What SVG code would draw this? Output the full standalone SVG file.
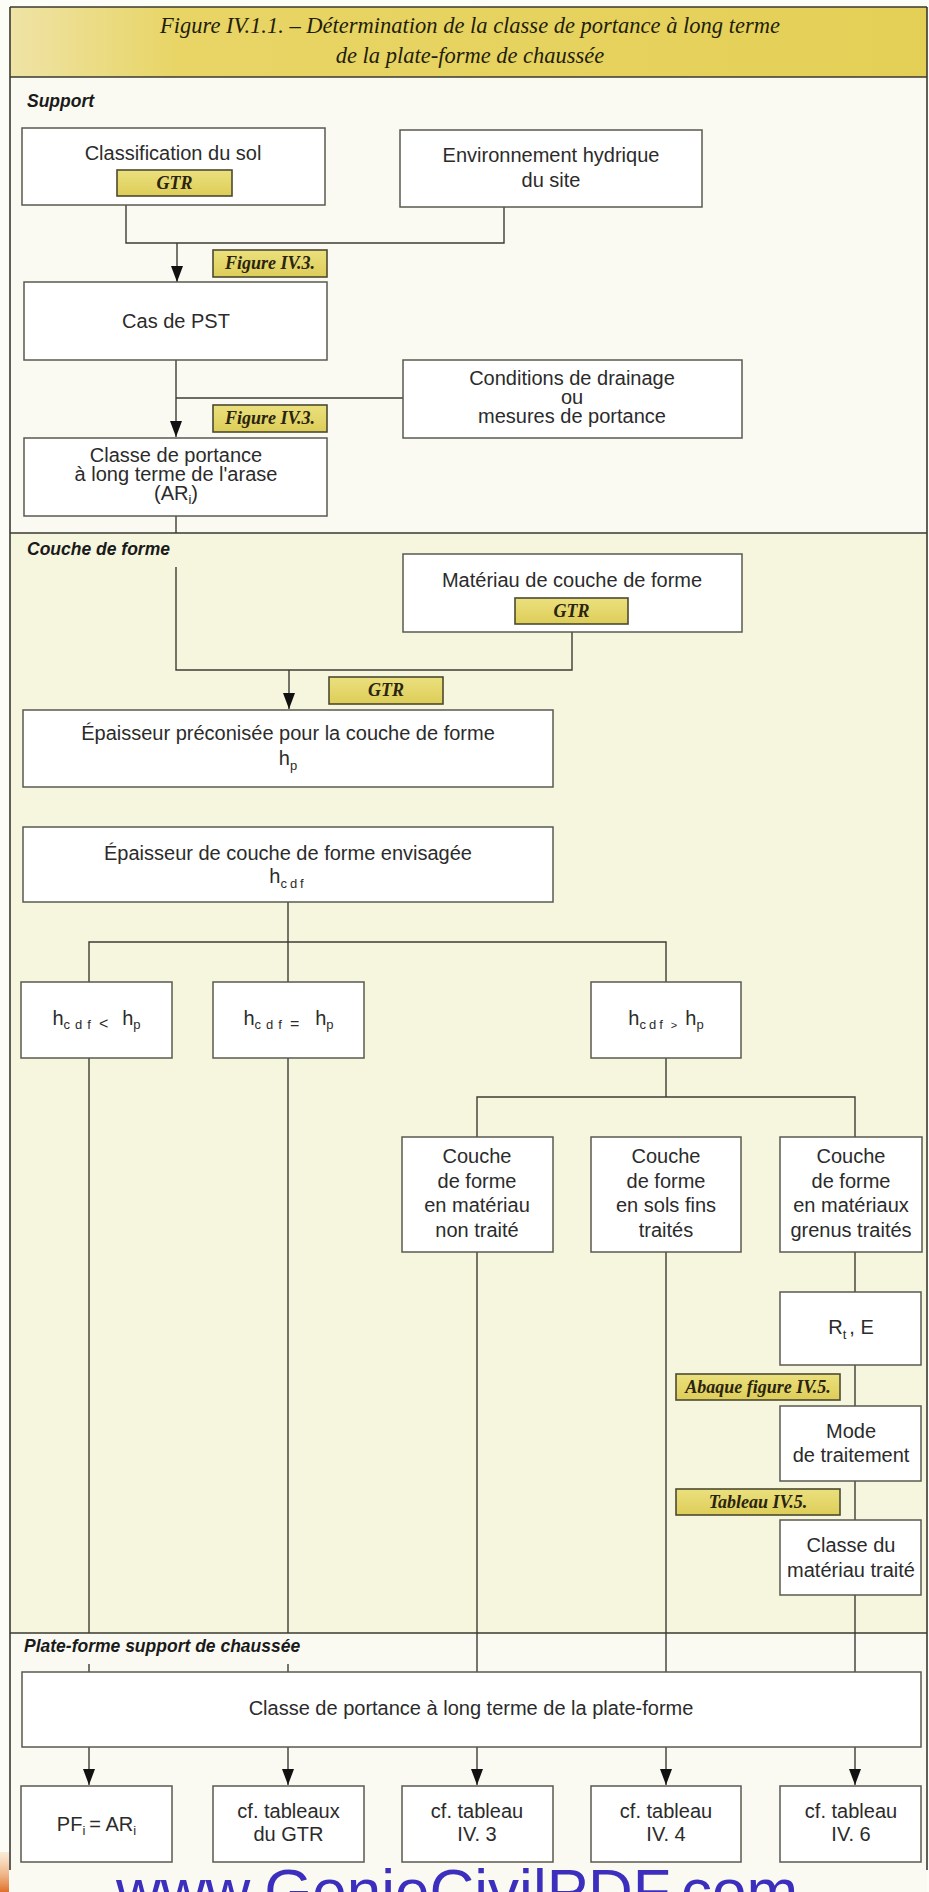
<svg xmlns="http://www.w3.org/2000/svg" width="929" height="1892" viewBox="0 0 929 1892">
<defs>
<linearGradient id="hdr" x1="0" y1="0" x2="1" y2="0">
<stop offset="0" stop-color="#efe3a6"/>
<stop offset="0.18" stop-color="#e8d566"/>
<stop offset="1" stop-color="#e4cf56"/>
</linearGradient>
<linearGradient id="lblg" x1="0" y1="0" x2="0" y2="1">
<stop offset="0" stop-color="#ebe07e"/>
<stop offset="1" stop-color="#ddcd58"/>
</linearGradient>
<linearGradient id="org" x1="0" y1="0" x2="0" y2="1">
<stop offset="0" stop-color="#f3c28a" stop-opacity="0.3"/>
<stop offset="1" stop-color="#e0702a"/>
</linearGradient>
<marker id="arr" markerWidth="16" markerHeight="12" refX="16" refY="6" orient="auto" markerUnits="userSpaceOnUse">
<path d="M0,0 L16,6 L0,12 z" fill="#111"/>
</marker>
<style>
.box{fill:#fff;stroke:#5a5a50;stroke-width:1.5}
.lbl{fill:url(#lblg);stroke:#4d4a30;stroke-width:1.6}
.ln{fill:none;stroke:#3c3c34;stroke-width:1.4}
.fr{fill:none;stroke:#3a3a30;stroke-width:1.6}
.t{font-family:"Liberation Sans",Arial,sans-serif;font-size:20px;fill:#2b2b2b;text-anchor:middle}
.sec{font-family:"Liberation Sans",Arial,sans-serif;font-size:17.5px;font-weight:bold;font-style:italic;fill:#1a1a1a}
.lt{font-family:"Liberation Serif","Times New Roman",serif;font-size:18px;font-weight:bold;font-style:italic;fill:#2a2410;text-anchor:middle}
.ttl{font-family:"Liberation Serif","Times New Roman",serif;font-size:22.5px;font-style:italic;fill:#231e0c;text-anchor:middle}
.s{font-size:13px}
.wm{font-family:"Liberation Sans",Arial,sans-serif;font-size:62px;fill:#3d2fbd}
</style>
</defs>

<!-- backgrounds -->
<rect x="0" y="0" width="929" height="1892" fill="#fdfdf8"/>
<rect x="10" y="7" width="917" height="70" fill="url(#hdr)"/>
<rect x="10" y="77" width="917" height="456" fill="#fafaf3"/>
<rect x="10" y="533" width="917" height="1100" fill="#f6f6df"/>
<rect x="10" y="1633" width="917" height="259" fill="#fafaf3"/>
<rect x="0" y="1852" width="9" height="40" fill="url(#org)"/>

<!-- frame and section separators -->
<g id="frame">
<path class="fr" d="M10 7 H927 M10 77 H927 M10 533 H927 M10 1633 H927 M10 7 V1870 M927 7 V1870"/>
</g>

<g id="title">
<text class="ttl" x="470" y="33">Figure IV.1.1. – Détermination de la classe de portance à long terme</text>
<text class="ttl" x="470" y="63">de la plate-forme de chaussée</text>
</g>

<g id="sections">
<text class="sec" x="27" y="107">Support</text>
<text class="sec" x="27" y="555">Couche de forme</text>
<text class="sec" x="24" y="1652">Plate-forme support de chaussée</text>
</g>

<!-- connectors -->
<g id="connectors">
<path class="ln" d="M126 205 V243 H504 V207"/>
<path class="ln" d="M177 243 V282" marker-end="url(#arr)"/>
<path class="ln" d="M176 360 V437" marker-end="url(#arr)"/>
<path class="ln" d="M403 398 H176"/>
<path class="ln" d="M176 516 V533"/>
<path class="ln" d="M176 567 V670 H572 V632"/>
<path class="ln" d="M289 670 V709" marker-end="url(#arr)"/>
<path class="ln" d="M288 902 V982 M89 982 V942 H666 V982"/>
<path class="ln" d="M89 1058 V1633 M89 1664 V1672"/>
<path class="ln" d="M288 1058 V1633 M288 1664 V1672"/>
<path class="ln" d="M666 1058 V1097 M477 1137 V1097 H855 V1137"/>
<path class="ln" d="M477 1252 V1672"/>
<path class="ln" d="M666 1252 V1672"/>
<path class="ln" d="M855 1252 V1292 M855 1365 V1406 M855 1481 V1520 M855 1595 V1672"/>
<path class="ln" d="M89 1747 V1785" marker-end="url(#arr)"/>
<path class="ln" d="M288 1747 V1785" marker-end="url(#arr)"/>
<path class="ln" d="M477 1747 V1785" marker-end="url(#arr)"/>
<path class="ln" d="M666 1747 V1785" marker-end="url(#arr)"/>
<path class="ln" d="M855 1747 V1785" marker-end="url(#arr)"/>
</g>

<!-- nodes -->
<g id="n-classification">
<rect class="box" x="22" y="128" width="303" height="77"/>
<text class="t" x="173" y="160">Classification du sol</text>
<rect class="lbl" x="117" y="170" width="115" height="26"/>
<text class="lt" x="174.5" y="189">GTR</text>
</g>

<g id="n-environnement">
<rect class="box" x="400" y="130" width="302" height="77"/>
<text class="t" x="551" y="162">Environnement hydrique</text>
<text class="t" x="551" y="187">du site</text>
</g>

<g id="l-fig1">
<rect class="lbl" x="213" y="250" width="114" height="27"/>
<text class="lt" x="270" y="269">Figure IV.3.</text>
</g>

<g id="n-pst">
<rect class="box" x="24" y="282" width="303" height="78"/>
<text class="t" x="176" y="328">Cas de PST</text>
</g>

<g id="n-conditions">
<rect class="box" x="403" y="360" width="339" height="78"/>
<text class="t" x="572" y="385">Conditions de drainage</text>
<text class="t" x="572" y="404">ou</text>
<text class="t" x="572" y="423">mesures de portance</text>
</g>

<g id="l-fig2">
<rect class="lbl" x="213" y="405" width="114" height="27"/>
<text class="lt" x="270" y="424">Figure IV.3.</text>
</g>

<g id="n-arase">
<rect class="box" x="24" y="438" width="303" height="78"/>
<text class="t" x="176" y="462">Classe de portance</text>
<text class="t" x="176" y="481">à long terme de l'arase</text>
<text class="t" x="176" y="500">(AR<tspan class="s" dy="4">i</tspan><tspan dy="-4">)</tspan></text>
</g>

<g id="n-materiau">
<rect class="box" x="403" y="554" width="339" height="78"/>
<text class="t" x="572" y="587">Matériau de couche de forme</text>
<rect class="lbl" x="515" y="598" width="113" height="26"/>
<text class="lt" x="571.5" y="617">GTR</text>
</g>

<g id="l-gtr">
<rect class="lbl" x="329" y="677" width="114" height="27"/>
<text class="lt" x="386" y="696">GTR</text>
</g>

<g id="n-hp">
<rect class="box" x="23" y="710" width="530" height="77"/>
<text class="t" x="288" y="740">Épaisseur préconisée pour la couche de forme</text>
<text class="t" x="288" y="765">h<tspan class="s" dy="5">p</tspan></text>
</g>

<g id="n-hcdf">
<rect class="box" x="23" y="827" width="530" height="75"/>
<text class="t" x="288" y="860">Épaisseur de couche de forme envisagée</text>
<text class="t" x="288" y="883">h<tspan class="s" dy="5" letter-spacing="3">cdf</tspan></text>
</g>

<g id="n-lt">
<rect class="box" x="21" y="982" width="151" height="76"/>
<text class="t" x="96.5" y="1025">h<tspan class="s" dy="4" letter-spacing="5">cdf</tspan><tspan dx="3" font-size="16">&lt;</tspan><tspan dx="14" dy="-4">h</tspan><tspan class="s" dy="4">p</tspan></text>
</g>

<g id="n-eq">
<rect class="box" x="213" y="982" width="151" height="76"/>
<text class="t" x="288.5" y="1025">h<tspan class="s" dy="4" letter-spacing="5">cdf</tspan><tspan dx="3" font-size="16">=</tspan><tspan dx="16" dy="-4">h</tspan><tspan class="s" dy="4">p</tspan></text>
</g>

<g id="n-gt">
<rect class="box" x="591" y="982" width="150" height="76"/>
<text class="t" x="666" y="1025">h<tspan class="s" dy="4" letter-spacing="3">cdf</tspan><tspan dx="5" font-size="11">&gt;</tspan><tspan dx="8" dy="-4">h</tspan><tspan class="s" dy="4">p</tspan></text>
</g>

<g id="n-nontraite">
<rect class="box" x="402" y="1137" width="151" height="115"/>
<text class="t" x="477" y="1163">Couche</text>
<text class="t" x="477" y="1188">de forme</text>
<text class="t" x="477" y="1212">en matériau</text>
<text class="t" x="477" y="1237">non traité</text>
</g>

<g id="n-solsfins">
<rect class="box" x="591" y="1137" width="150" height="115"/>
<text class="t" x="666" y="1163">Couche</text>
<text class="t" x="666" y="1188">de forme</text>
<text class="t" x="666" y="1212">en sols fins</text>
<text class="t" x="666" y="1237">traités</text>
</g>

<g id="n-grenus">
<rect class="box" x="780" y="1137" width="142" height="115"/>
<text class="t" x="851" y="1163">Couche</text>
<text class="t" x="851" y="1188">de forme</text>
<text class="t" x="851" y="1212">en matériaux</text>
<text class="t" x="851" y="1237">grenus traités</text>
</g>

<g id="n-rte">
<rect class="box" x="780" y="1292" width="141" height="73"/>
<text class="t" x="851" y="1334">R<tspan class="s" dy="5">t</tspan><tspan dx="3" dy="-5">, E</tspan></text>
</g>

<g id="l-abaque">
<rect class="lbl" x="676" y="1374" width="164" height="26"/>
<text class="lt" x="758" y="1393">Abaque figure IV.5.</text>
</g>

<g id="n-mode">
<rect class="box" x="780" y="1406" width="141" height="75"/>
<text class="t" x="851" y="1438">Mode</text>
<text class="t" x="851" y="1462">de traitement</text>
</g>

<g id="l-tableau">
<rect class="lbl" x="676" y="1489" width="164" height="26"/>
<text class="lt" x="758" y="1508">Tableau IV.5.</text>
</g>

<g id="n-classemat">
<rect class="box" x="780" y="1520" width="141" height="75"/>
<text class="t" x="851" y="1552">Classe du</text>
<text class="t" x="851" y="1577">matériau traité</text>
</g>

<g id="n-plateforme">
<rect class="box" x="22" y="1672" width="899" height="75"/>
<text class="t" x="471" y="1715">Classe de portance à long terme de la plate-forme</text>
</g>

<g id="n-pf">
<rect class="box" x="21" y="1786" width="151" height="76"/>
<text class="t" x="96.5" y="1831">PF<tspan class="s" dy="4">i</tspan><tspan dx="4" dy="-4">= AR</tspan><tspan class="s" dy="4">i</tspan></text>
</g>

<g id="n-gtr-tab">
<rect class="box" x="213" y="1786" width="151" height="76"/>
<text class="t" x="288.5" y="1818">cf. tableaux</text>
<text class="t" x="288.5" y="1841">du GTR</text>
</g>

<g id="n-tab3">
<rect class="box" x="402" y="1786" width="151" height="76"/>
<text class="t" x="477" y="1818">cf. tableau</text>
<text class="t" x="477" y="1841">IV. 3</text>
</g>

<g id="n-tab4">
<rect class="box" x="591" y="1786" width="150" height="76"/>
<text class="t" x="666" y="1818">cf. tableau</text>
<text class="t" x="666" y="1841">IV. 4</text>
</g>

<g id="n-tab6">
<rect class="box" x="780" y="1786" width="141" height="76"/>
<text class="t" x="851" y="1818">cf. tableau</text>
<text class="t" x="851" y="1841">IV. 6</text>
</g>

<g id="watermark">
<text class="wm" x="116" y="1912">www.GenieCivilPDF.com</text>
</g>
</svg>
